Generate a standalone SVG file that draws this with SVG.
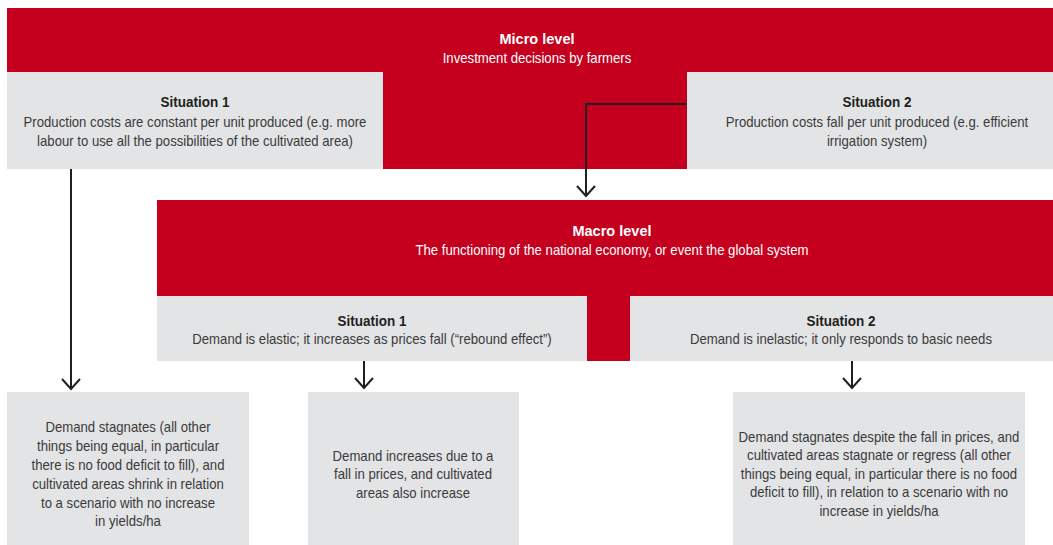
<svg xmlns="http://www.w3.org/2000/svg" width="1053" height="545" viewBox="0 0 1053 545">
<defs>
<style>
.red{fill:#C4001E}
.gray{fill:#E3E4E6}
text{font-family:"Liberation Sans",Arial,sans-serif;font-size:14px;text-anchor:middle;transform-box:fill-box;transform-origin:center;transform:scaleX(0.94)}
.wt{fill:#ffffff;font-weight:bold;font-size:15px;transform:scaleX(0.97)}
.ws{fill:#ffffff}
.dt{fill:#231F20;font-weight:bold;font-size:15px;transform:scaleX(0.9)}
.ds{fill:#3a3a3a}
.ln{fill:none;stroke:#231F20;stroke-width:2}
</style>
<marker id="ah" viewBox="0 0 14 22" refX="12" refY="11" markerWidth="14" markerHeight="22" markerUnits="userSpaceOnUse" orient="auto">
<path d="M2 2 L12 11 L2 20" fill="none" stroke="#231F20" stroke-width="2"/>
</marker>
</defs>
<g id="micro">
<rect class="red" x="7" y="8" width="1046" height="64"/>
<rect class="red" x="383" y="72" width="304" height="97"/>
<text class="wt" x="537" y="44">Micro level</text>
<text class="ws" x="537" y="63">Investment decisions by farmers</text>
</g>
<g id="micro-s1">
<rect class="gray" x="7" y="72" width="376" height="97"/>
<text class="dt" x="195" y="107">Situation 1</text>
<text class="ds" x="195" y="127">Production costs are constant per unit produced (e.g. more</text>
<text class="ds" x="195" y="146">labour to use all the possibilities of the cultivated area)</text>
</g>
<g id="micro-s2">
<rect class="gray" x="687" y="72" width="366" height="97"/>
<text class="dt" x="877" y="107">Situation 2</text>
<text class="ds" x="877" y="127">Production costs fall per unit produced (e.g. efficient</text>
<text class="ds" x="877" y="146">irrigation system)</text>
</g>
<g id="macro">
<rect class="red" x="157" y="200" width="896" height="96"/>
<rect class="red" x="587" y="296" width="43" height="65"/>
<text class="wt" x="612" y="236">Macro level</text>
<text class="ws" x="612" y="255">The functioning of the national economy, or event the global system</text>
</g>
<g id="macro-s1">
<rect class="gray" x="157" y="296" width="430" height="65"/>
<text class="dt" x="372" y="326">Situation 1</text>
<text class="ds" x="372" y="344">Demand is elastic; it increases as prices fall (“rebound effect”)</text>
</g>
<g id="macro-s2">
<rect class="gray" x="630" y="296" width="423" height="65"/>
<text class="dt" x="841" y="326">Situation 2</text>
<text class="ds" x="841" y="344">Demand is inelastic; it only responds to basic needs</text>
</g>
<g id="out1">
<rect class="gray" x="7" y="392" width="242" height="153"/>
<text class="ds" x="128" y="432">Demand stagnates (all other</text>
<text class="ds" x="128" y="451">things being equal, in particular</text>
<text class="ds" x="128" y="470">there is no food deficit to fill), and</text>
<text class="ds" x="128" y="489">cultivated areas shrink in relation</text>
<text class="ds" x="128" y="508">to a scenario with no increase</text>
<text class="ds" x="128" y="526">in yields/ha</text>
</g>
<g id="out2">
<rect class="gray" x="308" y="392" width="211" height="153"/>
<text class="ds" x="413" y="461">Demand increases due to a</text>
<text class="ds" x="413" y="479">fall in prices, and cultivated</text>
<text class="ds" x="413" y="498">areas also increase</text>
</g>
<g id="out3">
<rect class="gray" x="733" y="392" width="292" height="153"/>
<text class="ds" x="879" y="442">Demand stagnates despite the fall in prices, and</text>
<text class="ds" x="879" y="460">cultivated areas stagnate or regress (all other</text>
<text class="ds" x="879" y="479">things being equal, in particular there is no food</text>
<text class="ds" x="879" y="497">deficit to fill), in relation to a scenario with no</text>
<text class="ds" x="879" y="516">increase in yields/ha</text>
</g>
<g id="connectors">
<path class="ln" d="M687 104 H586 V196" marker-end="url(#ah)"/>
<path class="ln" d="M71 169 V389" marker-end="url(#ah)"/>
<path class="ln" d="M364 361 V388" marker-end="url(#ah)"/>
<path class="ln" d="M852 361 V388" marker-end="url(#ah)"/>
</g>
</svg>
